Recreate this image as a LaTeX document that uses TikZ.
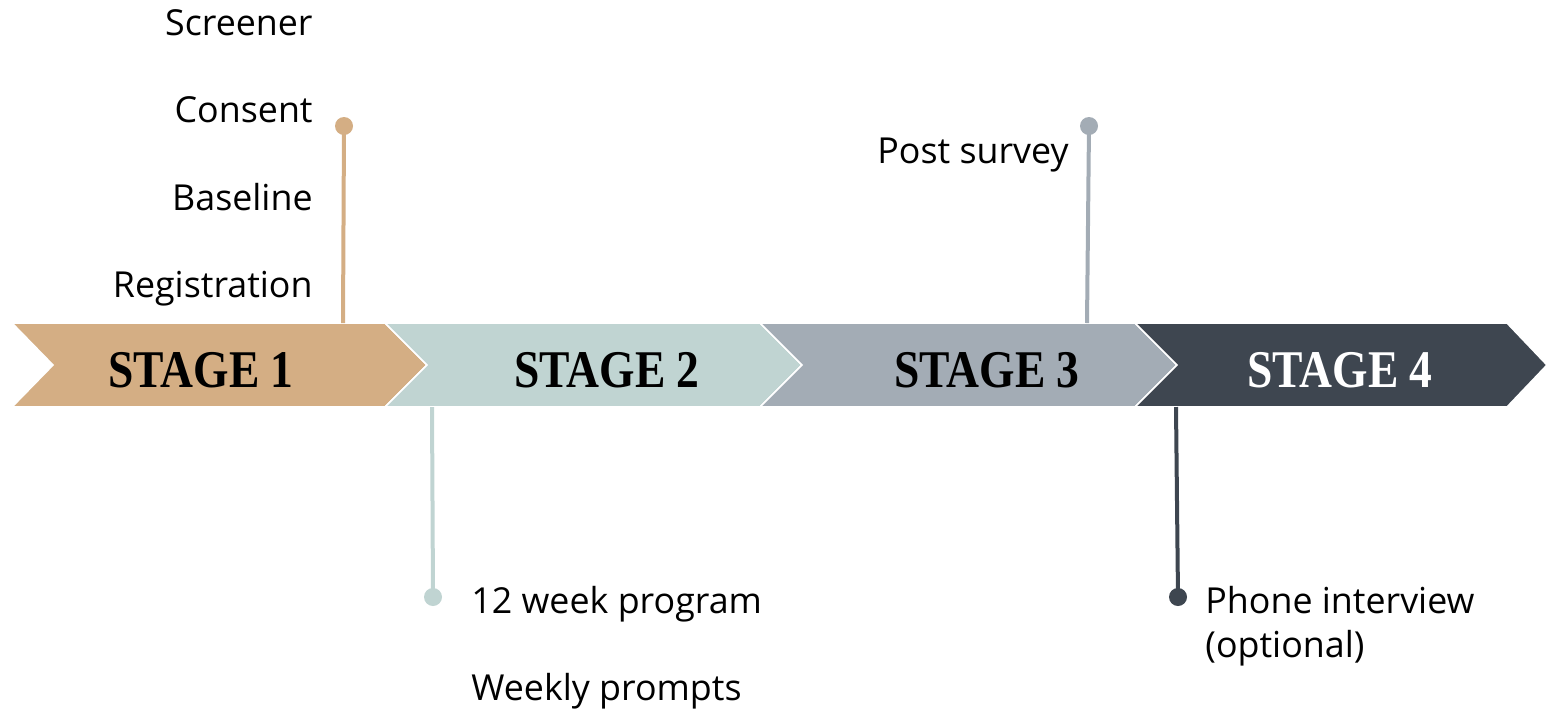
\documentclass[tikz,border=0pt]{standalone}
\usepackage{fontspec}
\setmainfont{Open Sans}
\newfontfamily\stagefont{Liberation Serif}
\definecolor{cA}{HTML}{D4AE84}
\definecolor{cB}{HTML}{C0D4D2}
\definecolor{cC}{HTML}{A3ACB5}
\definecolor{cD}{HTML}{3E4650}
\tikzset{
  chev/.style={draw=white, line width=0.8pt},
  stagelbl/.style={font=\stagefont\bfseries\fontsize{26.5}{30}\selectfont, inner sep=0pt, anchor=base},
  lbl/.style={font=\fontsize{17.9}{22}\selectfont, inner sep=0pt, text=black},
  pin/.style={line width=2pt},
  dotn/.style={circle, inner sep=0pt, minimum size=9pt},
}
\begin{document}
\begin{tikzpicture}[x=0.5pt, y=-0.5pt]
\useasboundingbox (0,0) rectangle (1547,714);
% chevrons
\fill[cA, chev] (12,323) -- (385,323) -- (427,365) -- (385,407) -- (12,407) -- (53,365) -- cycle;
\fill[cB, chev] (385,323) -- (760,323) -- (802,365) -- (760,407) -- (385,407) -- (427,365) -- cycle;
\fill[cC, chev] (760,323) -- (1135,323) -- (1177,365) -- (1135,407) -- (760,407) -- (802,365) -- cycle;
\fill[cD, chev] (1135,323) -- (1507,323) -- (1547,365) -- (1507,407) -- (1135,407) -- (1177,365) -- cycle;
% stage labels
\node[stagelbl] (st1) at (201,387) {\scalebox{0.86}[1]{STAGE 1}};
\node[stagelbl] (st2) at (607,387) {\scalebox{0.86}[1]{STAGE 2}};
\node[stagelbl] (st3) at (987,387) {\scalebox{0.86}[1]{STAGE 3}};
\node[stagelbl, text=white] (st4) at (1340,387) {\scalebox{0.86}[1]{STAGE 4}};
% pins
\coordinate (b1) at (343,323);
\coordinate (b2) at (432,407);
\coordinate (b3) at (1087,323);
\coordinate (b4) at (1176,407);
\node[dotn, fill=cA] (d1) at (344,126) {};
\node[dotn, fill=cB] (d2) at (433,597) {};
\node[dotn, fill=cC] (d3) at (1089,126) {};
\node[dotn, fill=cD] (d4) at (1178,597) {};
\draw[pin, cA] (d1.center) -- (b1);
\draw[pin, cB] (d2.center) -- (b2);
\draw[pin, cC] (d3.center) -- (b3);
\draw[pin, cD] (d4.center) -- (b4);
% labels
\node[lbl, anchor=base east] (t1) at (313,35) {Screener};
\node[lbl, anchor=base east] (t2) at (313,122) {Consent};
\node[lbl, anchor=base east] (t3) at (313,210) {Baseline};
\node[lbl, anchor=base east] (t4) at (313,297) {Registration};
\node[lbl, anchor=base west] (t5) at (471,613) {12 week program};
\node[lbl, anchor=base west] (t6) at (471,700) {Weekly prompts};
\node[lbl, anchor=base east] (t7) at (1069,163) {Post survey};
\node[lbl, anchor=base west] (t8) at (1205,613) {Phone interview};
\node[lbl, anchor=base west] (t9) at (1205,657) {(optional)};
\end{tikzpicture}
\end{document}
